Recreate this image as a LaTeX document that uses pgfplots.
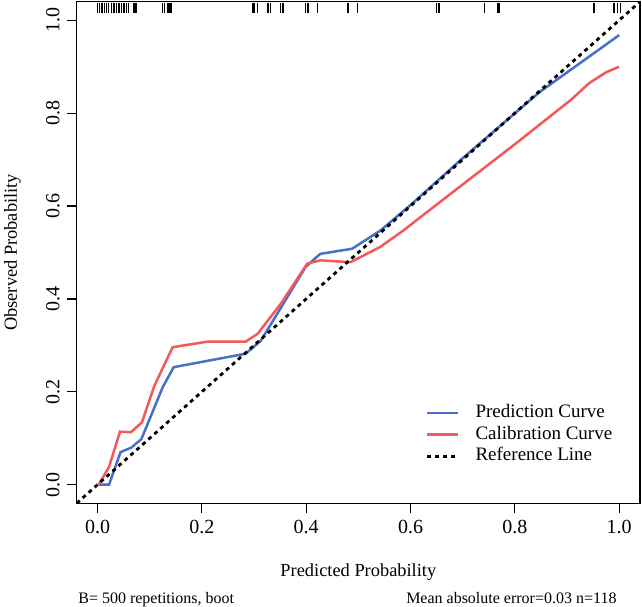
\documentclass[border=0pt]{standalone}
\usepackage{pgfplots}
\pgfplotsset{compat=1.18}
\usepackage{fontspec}
\setmainfont{Liberation Serif}
\definecolor{predblue}{RGB}{72,112,200}
\definecolor{calred}{RGB}{245,88,88}
\begin{document}
\begin{tikzpicture}
\begin{axis}[
  name=main,
  scale only axis,
  width=281.7pt, height=250.8pt,
  xmin=-0.04, xmax=1.04, ymin=-0.04, ymax=1.04,
  xtick={0,0.2,0.4,0.6,0.8,1.0},
  ytick={0,0.2,0.4,0.6,0.8,1.0},
  xtick pos=bottom, ytick pos=left,
  tick align=outside,
  major tick length=5pt,
  tick style={black, line width=0.6pt},
  axis line style={black, line width=0.7pt},
  /pgf/number format/.cd, fixed, fixed zerofill, precision=1, assume math mode=true,
  /pgfplots/.cd,
  ticklabel style={font=\fontsize{10}{12}\selectfont},
  yticklabel style={rotate=90, anchor=south},
  xlabel={Predicted Probability},
  ylabel={Observed Probability},
  label style={font=\fontsize{9.2}{11}\selectfont},
  xlabel style={at={(axis description cs:0.5,-0.147)}, anchor=base},
  ylabel style={at={(axis description cs:-0.106,0.5)}, anchor=base},
  legend cell align=left,
  legend image code/.code={\draw[#1] (0pt,0pt) -- (15.5pt,0pt); \path (22.5pt,0pt);},
  legend style={draw=none, fill=none, at={(axis cs:0.617,0.186)}, anchor=north west,
    font=\fontsize{9.5}{11}\selectfont, row sep=0.25pt,
    nodes={text height=6.5pt, text depth=2pt, inner sep=1pt}},
  clip=true,
]
\addplot[predblue, line width=1.25pt] coordinates {
(0.002,0.0) (0.022,0.0) (0.044,0.07) (0.065,0.08) (0.084,0.098) (0.125,0.21)
(0.146,0.253) (0.284,0.282) (0.313,0.31) (0.351,0.38) (0.399,0.469) (0.427,0.497)
(0.488,0.508) (0.542,0.547) (0.6,0.602) (0.7,0.703) (0.847,0.845) (1.0,0.968)};
\addlegendentry{Prediction Curve}
\addplot[calred, line width=1.25pt] coordinates {
(0.002,0.0) (0.022,0.038) (0.043,0.114) (0.064,0.113) (0.085,0.134) (0.109,0.213)
(0.144,0.296) (0.211,0.308) (0.284,0.308) (0.307,0.325) (0.351,0.389) (0.402,0.476)
(0.427,0.483) (0.485,0.479) (0.542,0.512) (0.586,0.547) (0.65,0.603) (0.8,0.733)
(0.908,0.829) (0.943,0.865) (0.975,0.888) (1.0,0.9)};
\addlegendentry{Calibration Curve}
\addplot[black, line width=1.4pt, dash pattern=on 2pt off 2pt] coordinates {(-0.04,-0.04) (1.04,1.04)};
\addlegendentry{Reference Line}
\addplot[only marks, mark=|, mark size=2.6pt, mark options={line width=0.7pt, black}, forget plot] coordinates {
(0.0,1.0265) (0.004,1.0265) (0.008,1.0265) (0.01,1.0265) (0.013,1.0265) (0.017,1.0265)
(0.021,1.0265) (0.027,1.0265) (0.031,1.0265) (0.032,1.0265) (0.036,1.0265) (0.04,1.0265)
(0.042,1.0265) (0.046,1.0265) (0.05,1.0265) (0.052,1.0265) (0.055,1.0265) (0.059,1.0265)
(0.069,1.0265) (0.071,1.0265) (0.074,1.0265) (0.124,1.0265) (0.128,1.0265) (0.134,1.0265)
(0.137,1.0265) (0.141,1.0265) (0.298,1.0265) (0.3,1.0265) (0.307,1.0265) (0.326,1.0265)
(0.328,1.0265) (0.332,1.0265) (0.351,1.0265) (0.355,1.0265) (0.357,1.0265) (0.399,1.0265)
(0.403,1.0265) (0.405,1.0265) (0.422,1.0265) (0.479,1.0265) (0.481,1.0265) (0.498,1.0265)
(0.65,1.0265) (0.655,1.0265) (0.742,1.0265) (0.768,1.0265) (0.771,1.0265) (0.952,1.0265)
(0.99,1.0265) (0.997,1.0265) (1.003,1.0265)};
\end{axis}
\node[anchor=base west, font=\fontsize{8}{10}\selectfont, inner sep=0pt] at ([xshift=0.65pt, yshift=-50.35pt]main.south west) {B= 500 repetitions, boot};
\node[anchor=base east, font=\fontsize{8}{10}\selectfont, inner sep=0pt] at ([xshift=270.15pt, yshift=-50.35pt]main.south west) {Mean absolute error=0.03 n=118};
\pgfresetboundingbox
\path ([xshift=-38.35pt, yshift=-51.85pt]main.south west) rectangle ([xshift=1pt, yshift=0.85pt]main.north east);
\end{tikzpicture}
\end{document}
